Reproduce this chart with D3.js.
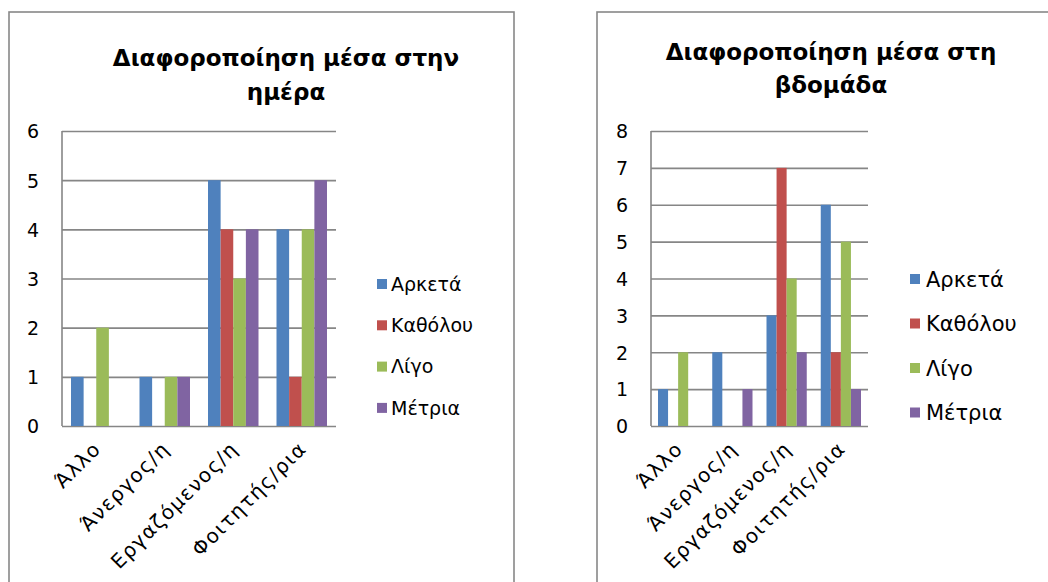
<!DOCTYPE html>
<html>
<head>
<meta charset="utf-8">
<script src="https://cdn.jsdelivr.net/npm/d3@7"></script>
<style>
  html, body { margin: 0; padding: 0; background: #fff; }
  svg { display: block; }
  text { font-family: "DejaVu Sans", "Open Sans", sans-serif; fill: #000; }
</style>
</head>
<body>
<svg id="chart" width="1048" height="582"></svg>
<script>
// Occupation categories shared by both charts
const categories = ["Άλλο", "Άνεργος/η", "Εργαζόμενος/η", "Φοιτητής/ρια"];
const seriesNames = ["Αρκετά", "Καθόλου", "Λίγο", "Μέτρια"];
const seriesColors = ["#4F81BD", "#C0504D", "#9BBB59", "#8064A2"];

// Variation within the day: one array per series, in category order
const dayArketa = [1, 1, 5, 4];
const dayKatholou = [0, 0, 4, 1];
const dayLigo = [2, 1, 3, 4];
const dayMetria = [0, 1, 4, 5];
const dayTicks = [0, 1, 2, 3, 4, 5, 6];

// Variation within the week
const weekArketa = [1, 2, 3, 6];
const weekKatholou = [0, 0, 7, 2];
const weekLigo = [2, 0, 4, 5];
const weekMetria = [0, 1, 2, 1];
const weekTicks = [0, 1, 2, 3, 4, 5, 6, 7, 8];

const svg = d3.select("#chart");

function drawChart(opt) {
  const g = svg.append("g");

  // outer chart frame
  g.append("rect")
    .attr("x", opt.frame[0]).attr("y", opt.frame[1])
    .attr("width", opt.frame[2]).attr("height", opt.frame[3])
    .attr("fill", "#fff").attr("stroke", "#888").attr("stroke-width", 1.6);

  // title (two lines)
  const title = g.append("text")
    .attr("text-anchor", "middle")
    .attr("font-weight", "bold")
    .attr("font-size", opt.titleSize);
  opt.title.forEach((line, i) => {
    title.append("tspan").attr("x", opt.titleX).attr("y", opt.titleY + i * opt.titleLead).text(line);
  });

  const x = d3.scaleBand().domain(categories).range([opt.left, opt.right]).paddingInner(0).paddingOuter(0);
  const inner = d3.scaleBand().domain(seriesNames).range([opt.groupPad, x.bandwidth() - opt.groupPad]);
  const y = d3.scaleLinear().domain([0, d3.max(opt.ticks)]).range([opt.bottom, opt.top]);

  // horizontal gridlines with value labels
  const yAxis = d3.axisLeft(y).tickValues(opt.ticks).tickSize(-(opt.right - opt.left)).tickFormat(d3.format("d"));
  const ya = g.append("g").attr("transform", `translate(${opt.left},0)`).call(yAxis);
  ya.select(".domain").remove();
  ya.selectAll(".tick line").attr("stroke", "#868686").attr("stroke-width", 1.6);
  ya.selectAll(".tick text").attr("font-size", opt.tickSize).attr("text-anchor", "middle")
    .attr("x", opt.tickX - opt.left).attr("dy", "0.36em").attr("fill", "#000");

  // left axis line
  g.append("line")
    .attr("x1", opt.left).attr("x2", opt.left)
    .attr("y1", opt.top).attr("y2", opt.bottom)
    .attr("stroke", "#868686").attr("stroke-width", 1.6);

  // bars
  const groups = g.append("g").selectAll("g").data(categories).join("g")
    .attr("transform", c => `translate(${x(c)},0)`);
  groups.selectAll("rect")
    .data((c, ci) => seriesNames.map((s, si) => ({ s, si, v: opt.values[si][ci] })))
    .join("rect")
    .attr("x", d => inner(d.s))
    .attr("width", inner.bandwidth())
    .attr("y", d => y(d.v))
    .attr("height", d => y(0) - y(d.v))
    .attr("fill", d => seriesColors[d.si]);

  // category labels, rotated
  g.append("g").selectAll("text").data(categories).join("text")
    .attr("font-size", opt.catSize)
    .attr("letter-spacing", opt.catSpacing)
    .attr("text-anchor", "end")
    .attr("transform", c => `translate(${x(c) + x.bandwidth() / 2 + opt.catDx},${opt.bottom + opt.catDy}) rotate(-45)`)
    .text(c => c);

  // legend
  const lg = g.append("g").selectAll("g").data(seriesNames).join("g")
    .attr("transform", (s, i) => `translate(${opt.legendX},${opt.legendY + i * opt.legendStep})`);
  lg.append("rect").attr("x", 0).attr("y", -5).attr("width", 10).attr("height", 10)
    .attr("fill", (s, i) => seriesColors[i]);
  lg.append("text").attr("x", opt.legendTextDx).attr("dy", "0.36em")
    .attr("font-size", opt.legendSize).text(s => s);
}

drawChart({
  frame: [9, 12, 505, 590],
  title: ["Διαφοροποίηση μέσα στην", "ημέρα"],
  titleX: 286, titleY: 66, titleLead: 34, titleSize: 23,
  left: 62, right: 336, top: 131, bottom: 426, groupPad: 9,
  ticks: dayTicks, tickX: 33, tickSize: 19,
  values: [dayArketa, dayKatholou, dayLigo, dayMetria],
  catSize: 20, catSpacing: 1.4, catDx: 6, catDy: 24,
  legendX: 377, legendY: 284, legendStep: 41.3, legendTextDx: 14, legendSize: 19
});

drawChart({
  frame: [597, 12, 470, 590],
  title: ["Διαφοροποίηση μέσα στη", "βδομάδα"],
  titleX: 831, titleY: 60, titleLead: 33, titleSize: 23,
  left: 651, right: 868, top: 131, bottom: 426, groupPad: 7,
  ticks: weekTicks, tickX: 622, tickSize: 19,
  values: [weekArketa, weekKatholou, weekLigo, weekMetria],
  catSize: 20, catSpacing: 1.4, catDx: 6, catDy: 24,
  legendX: 910, legendY: 279, legendStep: 44.5, legendTextDx: 16, legendSize: 21
});
</script>
</body>
</html>
